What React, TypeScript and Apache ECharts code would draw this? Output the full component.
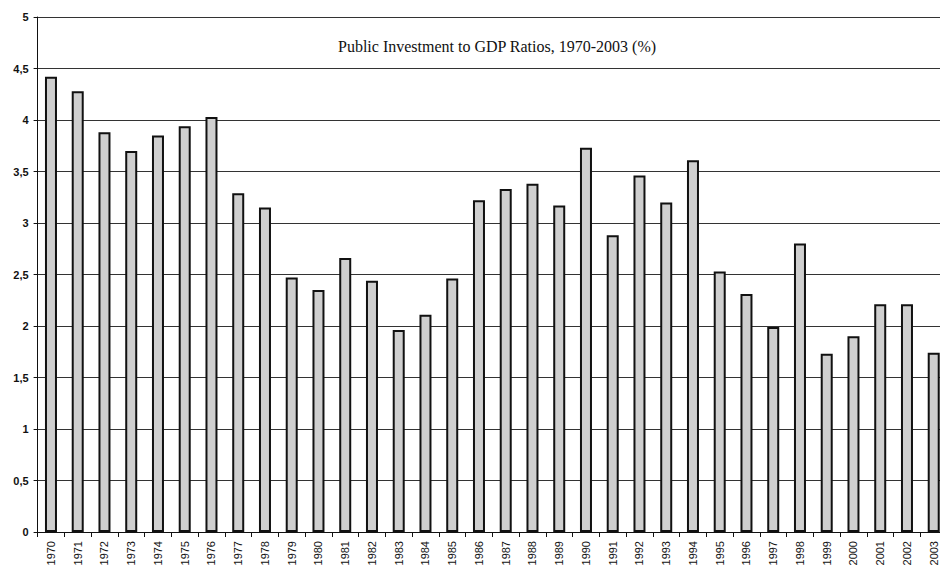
import React, { useEffect, useRef } from "react";
import * as echarts from "echarts";

const years = [
  "1970", "1971", "1972", "1973", "1974", "1975", "1976", "1977", "1978", "1979",
  "1980", "1981", "1982", "1983", "1984", "1985", "1986", "1987", "1988", "1989",
  "1990", "1991", "1992", "1993", "1994", "1995", "1996", "1997", "1998", "1999",
  "2000", "2001", "2002", "2003",
];

const ratios = [
  4.42, 4.28, 3.88, 3.70, 3.85, 3.94, 4.03, 3.29, 3.15, 2.47,
  2.35, 2.66, 2.44, 1.96, 2.11, 2.46, 3.22, 3.33, 3.38, 3.17,
  3.73, 2.88, 3.46, 3.20, 3.61, 2.53, 2.31, 1.99, 2.80, 1.73,
  1.90, 2.21, 2.21, 1.74,
];

const titleText = "Public Investment to GDP Ratios, 1970-2003 (%)";

export default function App() {
  const ref = useRef<HTMLDivElement>(null);
  useEffect(() => {
    document.body.style.margin = "0";
    if (!ref.current) return;
    const chart = echarts.init(ref.current, null, { renderer: "svg" });
    chart.setOption({
      animation: false,
      backgroundColor: "#ffffff",
      grid: { left: 37.6, right: 7.9, top: 17, bottom: 37, containLabel: false },
      graphic: [
        {
          type: "text",
          x: 497,
          y: 46,
          style: {
            text: titleText,
            textAlign: "center",
            textVerticalAlign: "middle",
            font: "16px 'Liberation Serif', serif",
            fill: "#111",
          },
        },
      ],
      xAxis: {
        type: "category",
        data: years,
        boundaryGap: true,
        axisLine: { show: true, lineStyle: { color: "#111", width: 1 } },
        axisTick: { show: true, alignWithLabel: false, length: 5, lineStyle: { color: "#111" } },
        axisLabel: {
          rotate: 90,
          interval: 0,
          margin: 9,
          fontFamily: "'Liberation Sans', Arial, sans-serif",
          fontSize: 11,
          color: "#111",
        },
        splitLine: { show: false },
      },
      yAxis: {
        type: "value",
        min: 0,
        max: 5,
        interval: 0.5,
        axisLine: { show: true, lineStyle: { color: "#111", width: 1 } },
        axisTick: { show: true, length: 4, lineStyle: { color: "#111" } },
        axisLabel: {
          margin: 9,
          fontFamily: "'Liberation Sans', Arial, sans-serif",
          fontSize: 11,
          fontWeight: "bold",
          color: "#111",
          formatter: (v: number) => String(v).replace(".", ","),
        },
        splitLine: { show: true, lineStyle: { color: "#333", width: 1 } },
      },
      series: [
        {
          type: "bar",
          data: ratios,
          barWidth: 12,
          itemStyle: {
            color: "#cfcfcf",
            borderColor: "#111",
            borderWidth: 2,
          },
        },
      ],
    });
    return () => chart.dispose();
  }, []);
  return (
    <div style={{ width: 940, height: 569, overflow: "hidden", position: "relative" }}>
      <div ref={ref} style={{ width: 955, height: 569 }} />
    </div>
  );
}
